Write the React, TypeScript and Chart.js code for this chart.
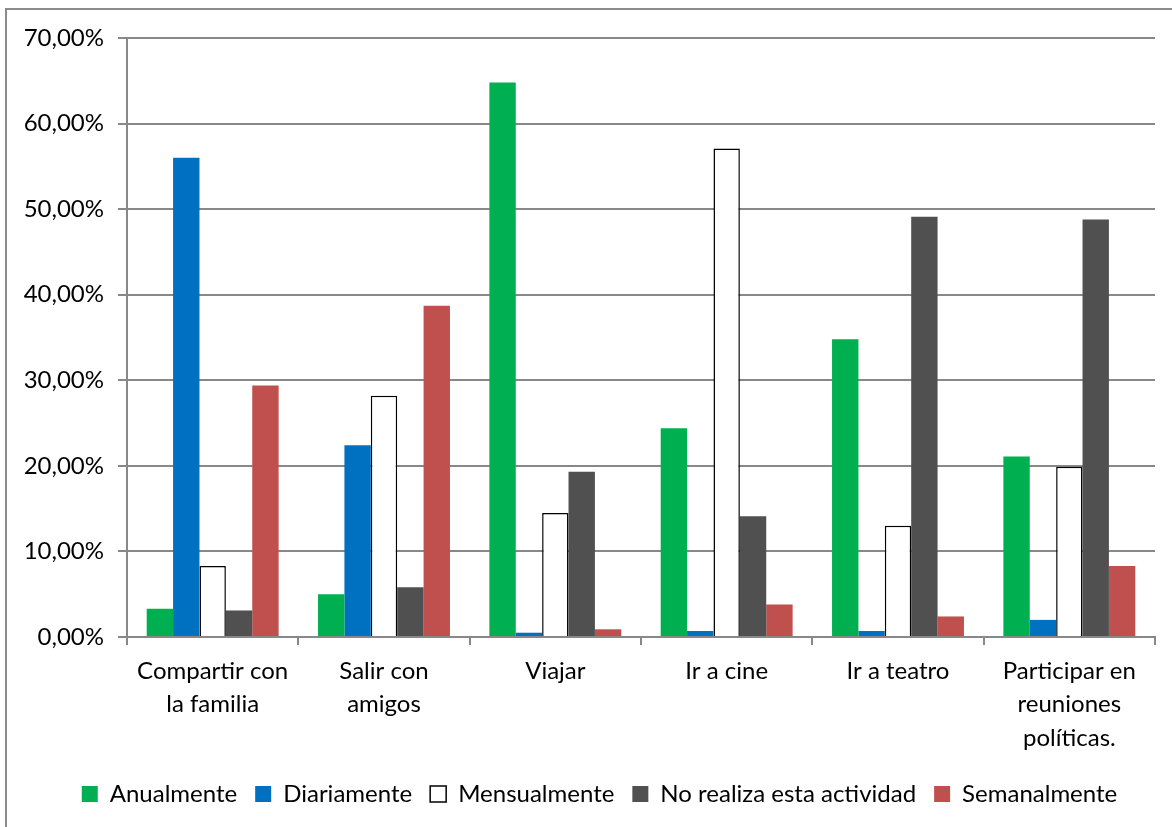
import React, { useEffect, useRef } from "react";
import { Chart, registerables } from "chart.js";

Chart.register(...registerables);

const categories: (string | string[])[] = [
  ["Compartir con", "la familia"],
  ["Salir con", "amigos"],
  "Viajar",
  "Ir a cine",
  "Ir a teatro",
  ["Participar en", "reuniones", "políticas."],
];

const anualmente = [3.3, 5.0, 64.8, 24.4, 34.8, 21.1];
const diariamente = [56.0, 22.4, 0.5, 0.7, 0.7, 2.0];
const mensualmente = [8.3, 28.2, 14.5, 57.1, 13.0, 19.9];
const noRealiza = [3.1, 5.8, 19.3, 14.1, 49.1, 48.8];
const semanalmente = [29.4, 38.7, 0.9, 3.8, 2.4, 8.3];

const seriesLabels = [
  "Anualmente",
  "Diariamente",
  "Mensualmente",
  "No realiza esta actividad",
  "Semanalmente",
];

const FONT = "Lato, 'Open Sans', sans-serif";

const shiftLegend = {
  id: "shiftLegend",
  afterUpdate(chart: any) {
    if (chart.legend) {
      chart.legend.left += 22;
      chart.legend.right += 22;
      chart.legend.top -= 7;
      chart.legend.bottom -= 7;
    }
  },
};

export default function App() {
  const ref = useRef<HTMLCanvasElement | null>(null);

  useEffect(() => {
    document.body.style.margin = "0";
    const canvas = ref.current;
    if (!canvas) return;
    const common = { barPercentage: 1, categoryPercentage: 0.77 };
    const chart = new Chart(canvas, {
      type: "bar",
      data: {
        labels: categories,
        datasets: [
          { label: seriesLabels[0], data: anualmente, backgroundColor: "#00B050", borderWidth: 0, ...common },
          { label: seriesLabels[1], data: diariamente, backgroundColor: "#0070C0", borderWidth: 0, ...common },
          { label: seriesLabels[2], data: mensualmente, backgroundColor: "#FFFFFF", borderColor: "#000000", borderWidth: 1.5, ...common },
          { label: seriesLabels[3], data: noRealiza, backgroundColor: "#505050", borderWidth: 0, ...common },
          { label: seriesLabels[4], data: semanalmente, backgroundColor: "#C0504D", borderWidth: 0, ...common },
        ],
      },
      plugins: [shiftLegend],
      options: {
        animation: false,
        responsive: false,
        maintainAspectRatio: false,
        layout: { padding: { left: 0, top: 38, right: 17, bottom: 4 } },
        plugins: {
          tooltip: { enabled: false },
          legend: {
            position: "bottom",
            labels: {
              color: "#000",
              font: { family: FONT, size: 24 },
              boxWidth: 16,
              boxHeight: 16,
              padding: 18,
            },
          },
        },
        scales: {
          x: {
            grid: {
              offset: true,
              drawOnChartArea: false,
              drawTicks: true,
              tickLength: 8,
              color: "#888888",
              lineWidth: 2,
            },
            border: { color: "#888888", width: 2 },
            ticks: {
              color: "#000",
              font: { family: FONT, size: 24, lineHeight: 1.38 },
              padding: 10,
              maxRotation: 0,
              autoSkip: false,
            },
            afterFit: (s: any) => {
              s.height = 134;
            },
          },
          y: {
            min: 0,
            max: 70,
            ticks: {
              stepSize: 10,
              color: "#000",
              font: { family: FONT, size: 24 },
              padding: 14,
              callback: (v: any) => Number(v).toFixed(2).replace(".", ",") + "%",
            },
            grid: {
              color: "#888888",
              lineWidth: 2,
              tickLength: 9,
            },
            border: { color: "#888888", width: 2 },
            afterFit: (s: any) => {
              s.width = 127;
            },
          },
        },
      },
    });
    return () => chart.destroy();
  }, []);

  return (
    <div style={{ position: "relative", width: 1172, height: 827, background: "#fff", overflow: "hidden" }}>
      <div
        style={{
          position: "absolute",
          left: 5,
          top: 8,
          width: 1200,
          height: 900,
          border: "2px solid #8c8c8c",
          boxSizing: "border-box",
        }}
      />
      <canvas ref={ref} width={1172} height={827} style={{ position: "absolute", left: 0, top: 0 }} />
    </div>
  );
}
